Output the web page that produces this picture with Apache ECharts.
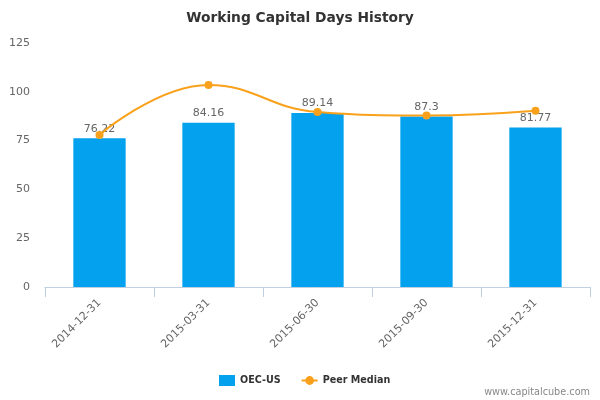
<!DOCTYPE html>
<html><head><meta charset="utf-8">
<script src="https://cdn.jsdelivr.net/npm/echarts@6/dist/echarts.min.js"></script>
<style>html,body{margin:0;padding:0;background:#fff}#c{width:600px;height:400px}</style>
</head><body><div id="c"></div>
<script>
var categories = ['2014-12-31','2015-03-31','2015-06-30','2015-09-30','2015-12-31'];
var companyValues = [76.22, 84.16, 89.14, 87.3, 81.77];
var peerMedian = [77.9, 103.5, 89.7, 87.9, 90.3];
var yTicks = [0, 25, 50, 75, 100, 125];

var chart = echarts.init(document.getElementById('c'), null, {renderer:'canvas'});
chart.setOption({
  animation: false,
  backgroundColor: '#fff',
  title: {
    text: 'Working Capital Days History',
    left: 'center', top: 6,
    textStyle: {fontFamily: 'DejaVu Sans', fontSize: 13.8, fontWeight: 'bold', color: '#333'}
  },
  legend: {
    bottom: 9, left: 214,
    itemGap: 20, itemWidth: 16, itemHeight: 11,
    textStyle: {fontFamily: 'DejaVu Sans', fontSize: 9.6, fontWeight: 'bold', color: '#333'},
    data: [
      {name: 'OEC-US', icon: 'rect'},
      {name: 'Peer Median'}
    ]
  },
  graphic: [{
    type: 'text', right: 10, bottom: 3,
    style: {text: 'www.capitalcube.com', fontFamily: 'DejaVu Sans', fontSize: 9.7, fill: '#888'}
  }],
  grid: {left: 45, right: 10, top: 43, bottom: 113},
  xAxis: {
    type: 'category', data: categories,
    axisLine: {lineStyle: {color: '#c0d0e0'}},
    axisTick: {show: true, length: 10, lineStyle: {color: '#c0d0e0'}},
    axisLabel: {rotate: 45, color: '#666', fontFamily: 'DejaVu Sans', fontSize: 11, margin: 14}
  },
  yAxis: {
    type: 'value', min: 0, max: 125, interval: 25,
    axisLine: {show: false}, axisTick: {show: false},
    splitLine: {show: false},
    axisLabel: {color: '#666', fontFamily: 'DejaVu Sans', fontSize: 11, margin: 15,
      formatter: function(v){ return yTicks.indexOf(v) >= 0 ? String(v) : ''; }}
  },
  series: [
    {
      name: 'OEC-US', type: 'bar', data: companyValues, barWidth: '48%',
      itemStyle: {color: '#03a1ee'},
      label: {show: true, position: 'top', distance: 4, color: '#666', fontFamily: 'DejaVu Sans', fontSize: 11}
    },
    {
      name: 'Peer Median', type: 'line', data: peerMedian, smooth: 0.45,
      symbol: 'circle', symbolSize: 8,
      lineStyle: {color: '#f9a11b', width: 2},
      itemStyle: {color: '#f9a11b'}
    }
  ]
});
</script></body></html>
